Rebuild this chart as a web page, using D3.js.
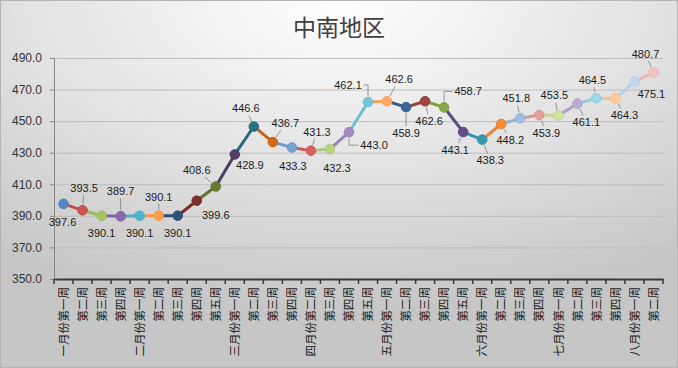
<!DOCTYPE html>
<html><head><meta charset="utf-8">
<script src="https://cdn.jsdelivr.net/npm/d3@7"></script>
<style>
html,body{margin:0;padding:0;background:#fff;}
svg{display:block;}
</style>
</head><body>
<script>
const title = "中南地区";
const categories = ["一月份第一周","第二周","第三周","第四周","二月份第一周","第二周","第三周","第四周","第五周",
  "三月份第一周","第二周","第三周","第四周","四月份第二周","第三周","第四周","第五周",
  "五月份第一周","第二周","第三周","第四周","第五周","六月份第一周","第二周","第三周","第四周",
  "七月份第一周","第二周","第三周","第四周","八月份第一周","第二周"];
const values = [397.6,393.5,390.1,389.7,390.1,390.1,390.1,399.6,408.6,428.9,446.6,436.7,433.3,431.3,432.3,443.0,
  462.1,462.6,458.9,462.6,458.7,443.1,438.3,448.2,451.8,453.9,453.5,461.1,464.5,464.3,475.1,480.7];
const yTicks = [350,370,390,410,430,450,470,490];
const pointColors = ["#4F81BD","#C0504D","#9BBB59","#8064A2","#4BACC6","#F79646",
  "#2C4D75","#772C2A","#5F7530","#4D3B62","#276A7C","#C8641A",
  "#729ACA","#CD5B58","#AFC97A","#9983B5","#6FBDD1","#F9A060",
  "#3A5F8F","#9A403E","#7FA040","#5E4A85","#3790A8","#EC8434",
  "#95B3D7","#D99694","#C3D69B","#B2A2C7","#93CDDD","#FAC090",
  "#B9CDE5","#E6B9B8"];
// label offsets relative to the point (dx, dy of label centre) and leader type (0 none, 1 straight, 2 elbow)
const labelLayout = [[-1,18,0],[1.5,-22,1],[0,17,0],[0,-25,1],[0,17,0],[0,-19,1],[0,17,0],[19,14,0],
  [-19,-16.5,1],[15,11,0],[-8,-18,1],[12.5,-19,1],[1,18.5,0],[6,-19,1],[7,19,0],[25,13,2],
  [-20,-17,2],[12,-22,1],[0,26,1],[4,20,1],[24,-16,2],[-8,18,1],[8,21,1],[9,16,1],
  [-4,-20,1],[7,18,1],[-4,-20,1],[9,19,1],[-4,-18,1],[9,16.5,1],[17,13,0],[-8,-19,1]];

const W = 678, H = 368;
const svg = d3.select("body").append("svg").attr("width", W).attr("height", H);
const defs = svg.append("defs");
const grad = defs.append("radialGradient").attr("id","bg")
  .attr("cx","50%").attr("cy","0%").attr("r","85%").attr("fx","50%").attr("fy","0%");
grad.append("stop").attr("offset","0%").attr("stop-color","#ffffff");
grad.append("stop").attr("offset","55%").attr("stop-color","#e2e2e2");
grad.append("stop").attr("offset","100%").attr("stop-color","#c6c6c6");
svg.append("rect").attr("x",0).attr("y",0).attr("width",W).attr("height",H).attr("fill","url(#bg)");
svg.append("rect").attr("x",0.5).attr("y",0.5).attr("width",W-1).attr("height",H-1)
  .attr("fill","none").attr("stroke","#b4b4b4");

const x = d3.scaleBand().domain(d3.range(values.length)).range([54, 663]).padding(0);
const y = d3.scaleLinear().domain([350, 490]).range([279, 58]);

// title
svg.append("text").attr("x", 339).attr("y", 36).attr("text-anchor","middle")
  .style("font-family","'Noto Sans CJK SC', sans-serif").style("font-size","23px")
  .attr("fill","#404040").text(title);

// gridlines
const grid = svg.append("g").attr("transform","translate(54,0)")
  .call(d3.axisLeft(y).tickValues(yTicks).tickSize(-(663-54)).tickFormat(""));
grid.select(".domain").remove();
grid.selectAll("line").attr("stroke","#bdbdbd").attr("stroke-width",1);
grid.selectAll(".tick").filter(d => d === 350).remove();

// y axis
const yAxis = svg.append("g").attr("transform","translate(54,0)")
  .call(d3.axisLeft(y).tickValues(yTicks).tickSize(4).tickPadding(8).tickFormat(d3.format(".1f")));
yAxis.select(".domain").attr("stroke","#868686");
yAxis.selectAll("line").attr("stroke","#868686");
yAxis.selectAll("text").style("font-family","'Liberation Sans', Arial, sans-serif")
  .style("font-size","12px").attr("fill","#333");

// x axis
const xAxis = svg.append("g").attr("transform","translate(0,279)")
  .call(d3.axisBottom(x).tickSize(0).tickFormat(i => categories[i]));
xAxis.select(".domain").attr("stroke","#3a3a3a").attr("stroke-width",2);
xAxis.selectAll("text")
  .attr("x",-8).attr("y",0).attr("dy","0.36em").attr("transform","rotate(-90)")
  .style("text-anchor","end")
  .style("font-family","'Noto Sans CJK SC', sans-serif").style("font-size","11.6px")
  .attr("fill","#222");
const bounds = d3.range(values.length).map(i => x(i)).concat([x.range()[1]]);
svg.append("g").selectAll("line").data(bounds).join("line")
  .attr("x1", d => d).attr("x2", d => d).attr("y1", 279).attr("y2", 284)
  .attr("stroke","#3a3a3a").attr("stroke-width",1.5);

// line segments
const pts = values.map((v,i) => ({i, v, cx: x(i) + x.bandwidth()/2, cy: y(v)}));
svg.append("g").selectAll("line").data(pts.slice(1)).join("line")
  .attr("x1", d => pts[d.i-1].cx).attr("y1", d => pts[d.i-1].cy)
  .attr("x2", d => d.cx).attr("y2", d => d.cy)
  .attr("stroke", d => pointColors[d.i]).attr("stroke-width",3).attr("stroke-linecap","round");

// markers
svg.append("g").selectAll("circle").data(pts).join("circle")
  .attr("cx", d => d.cx).attr("cy", d => d.cy).attr("r", 4.8)
  .attr("fill", d => d3.color(pointColors[d.i]).brighter(0.15))
  .attr("stroke", d => pointColors[d.i]).attr("stroke-width",1);

// data labels with leaders
const lw = 27, lh = 12, mr = 5;
const lg = svg.append("g");
pts.forEach(p => {
  const [dx, dy, leader] = labelLayout[p.i];
  const lx = p.cx + dx, ly = p.cy + dy;
  if (leader === 1) {
    const vx = lx - p.cx, vy = ly - p.cy;
    const len = Math.hypot(vx, vy);
    const tx = Math.abs(vx) > 0.01 ? (lw/2 + 1) / Math.abs(vx) : Infinity;
    const ty = Math.abs(vy) > 0.01 ? (lh/2 + 1) / Math.abs(vy) : Infinity;
    const t = Math.min(tx, ty);
    const ex = lx - vx * t, ey = ly - vy * t;
    const sx = p.cx + vx / len * (mr + 1), sy = p.cy + vy / len * (mr + 1);
    lg.append("line").attr("x1", sx).attr("y1", sy).attr("x2", ex).attr("y2", ey)
      .attr("stroke","#7f7f7f").attr("stroke-width",0.8);
  } else if (leader === 2) {
    const side = lx > p.cx ? -1 : 1;
    const ex = lx + side * (lw/2 + 2);
    const sy = p.cy + (ly > p.cy ? mr + 1 : -(mr + 1));
    lg.append("path").attr("d", `M${ex},${ly}L${p.cx},${ly}L${p.cx},${sy}`)
      .attr("fill","none").attr("stroke","#7f7f7f").attr("stroke-width",0.8);
  }
  lg.append("text").attr("x", lx).attr("y", ly).attr("dy","0.35em").attr("text-anchor","middle")
    .style("font-family","'Liberation Sans', Arial, sans-serif").style("font-size","11px")
    .attr("fill","#1a1a1a").text(d3.format(".1f")(p.v));
});
</script>
</body></html>
